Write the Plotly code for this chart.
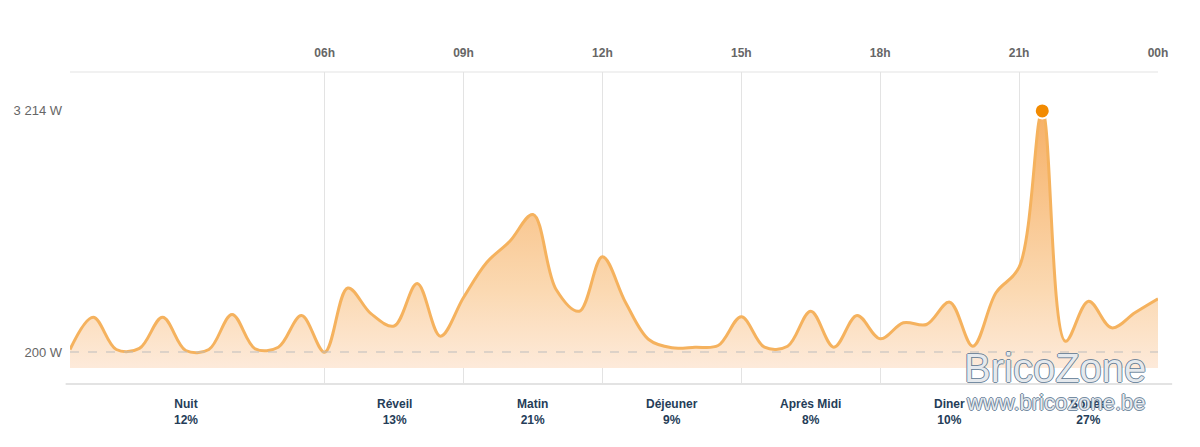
import plotly.graph_objects as go

# ---- data ----
hours = [0.5, 1.0, 1.5, 2.0, 2.5, 3.0, 3.5, 4.0, 4.5, 5.0, 5.5, 6.0,
         6.5, 7.0, 7.5, 8.0, 8.5, 9.0, 9.5, 10.0, 10.5, 11.0, 11.5, 12.0,
         12.5, 13.0, 13.5, 14.0, 14.5, 15.0, 15.5, 16.0, 16.5, 17.0, 17.5, 18.0,
         18.5, 19.0, 19.5, 20.0, 20.5, 21.0, 21.5, 22.0, 22.5, 23.0, 23.5, 24.0]
power_w = [231, 635, 231, 245, 635, 219, 231, 669, 240, 260, 656, 197,
           1000, 680, 525, 1056, 397, 881, 1319, 1585, 1919, 981, 710, 1390,
           819, 356, 252, 260, 281, 640, 260, 272, 710, 260, 656, 365,
           565, 544, 823, 272, 940, 1260, 3214, 335, 835, 502, 690, 865]

hour_ticks = [6, 9, 12, 15, 18, 21, 24]
hour_labels = ["06h", "09h", "12h", "15h", "18h", "21h", "00h"]

y_ticks = [200, 3214]
y_labels = ["200 W", "3 214 W"]

periods = ["Nuit", "Réveil", "Matin", "Déjeuner", "Après Midi", "Diner", "Soirée"]
period_pct = ["12%", "13%", "21%", "9%", "8%", "10%", "27%"]
period_bounds = [(0, 6), (6, 9), (9, 12), (12, 15), (15, 18), (18, 21), (21, 24)]

base_w = 200

# ---- figure ----
fig = go.Figure()

fig.add_trace(go.Scatter(
    x=hours, y=power_w, mode="lines",
    line=dict(color="#f5b25e", width=3, shape="spline", smoothing=1.0),
    fill="tozeroy",
    fillgradient=dict(type="vertical",
                      colorscale=[[0, "#fdeada"], [0.3, "#fbd9b2"], [1, "#f6b066"]]),
    hoverinfo="skip", showlegend=False,
))

imax = power_w.index(max(power_w))
fig.add_trace(go.Scatter(
    x=[hours[imax]], y=[power_w[imax]], mode="markers",
    marker=dict(size=15, color="#f28a00", line=dict(color="white", width=2)),
    hoverinfo="skip", showlegend=False,
))

shapes = [
    # 200 W dashed baseline
    dict(type="line", xref="x", yref="y", x0=hours[0], x1=24, y0=base_w, y1=base_w,
         line=dict(color="#bdbdbd", width=1, dash="dash"), layer="above"),
    # top border line
    dict(type="line", xref="paper", yref="paper", x0=0, x1=1, y0=1, y1=1,
         line=dict(color="#e3e3e3", width=1), layer="below"),
    # bottom axis line
    dict(type="line", xref="paper", yref="paper", x0=-0.004, x1=1.013, y0=0, y1=0,
         line=dict(color="#e3e3e3", width=2), layer="below"),
]

annotations = []
for name, pct, (a, b) in zip(periods, period_pct, period_bounds):
    annotations.append(dict(
        x=(a + b) / 2, xref="x", y=0, yref="paper", yanchor="top", yshift=-11,
        text=f"<b>{name}</b><br><b>{pct}</b>", showarrow=False,
        font=dict(family="Liberation Sans, Arial", size=12, color="#253d58"),
        align="center",
    ))

# convert watermark pixel positions to paper coordinates
L, R, T, B = 70, 42, 72, 63
W, H = 1200, 447
pw, ph = W - L - R, H - T - B


def px_to_paper(xp, yp):
    return (xp - L) / pw, 1 - (yp - T) / ph


wm_shadow = ("1px 0 0 #5d7892, -1px 0 0 #5d7892, 0 1px 0 #5d7892, 0 -1px 0 #5d7892")
wx, wy = px_to_paper(1055, 368)
annotations.append(dict(
    x=wx, xref="paper", y=wy, yref="paper", xanchor="center", yanchor="middle",
    showarrow=False, text="BricoZone",
    font=dict(family="Liberation Sans, Arial", size=40, color="rgba(255,255,255,0.85)",
              shadow=wm_shadow),
))
wx2, wy2 = px_to_paper(1056, 402)
annotations.append(dict(
    x=wx2, xref="paper", y=wy2, yref="paper", xanchor="center", yanchor="middle",
    showarrow=False, text="www.bricozone.be",
    font=dict(family="Liberation Sans, Arial", size=22, color="rgba(255,255,255,0.85)",
              shadow=wm_shadow),
))

fig.update_layout(
    width=W, height=H,
    margin=dict(l=L, r=R, t=T, b=B),
    paper_bgcolor="white", plot_bgcolor="white",
    font=dict(family="Liberation Sans, Arial", color="#666666"),
    xaxis=dict(
        range=[0.5, 24], side="top",
        tickvals=hour_ticks, ticktext=[f"<b>{t}</b>" for t in hour_labels],
        tickfont=dict(size=12, color="#666666"),
        showgrid=True, gridcolor="#e3e3e3", gridwidth=1,
        zeroline=False, showline=False, ticks="",
        ticklabelstandoff=12, fixedrange=True,
    ),
    yaxis=dict(
        range=[-200, 3700],
        tickvals=y_ticks, ticktext=y_labels,
        tickfont=dict(size=13, color="#666666"),
        showgrid=False, zeroline=False, showline=False, ticks="",
        ticklabelstandoff=7, fixedrange=True,
    ),
    shapes=shapes,
    annotations=annotations,
    showlegend=False,
)

fig.write_html("out.html")
